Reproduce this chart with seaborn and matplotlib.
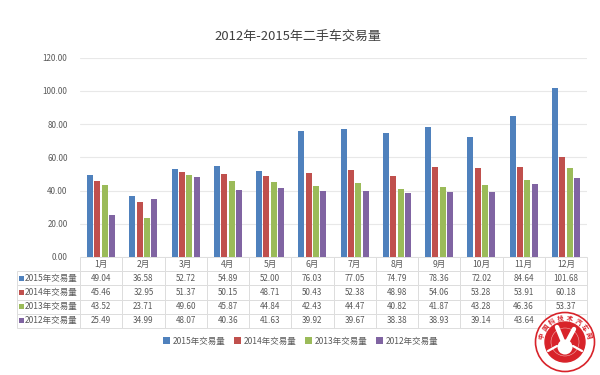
import matplotlib as mpl
mpl.use('Agg')
import matplotlib.pyplot as plt
from matplotlib.patches import Circle, Rectangle
import seaborn as sns
import pandas as pd
import numpy as np

months = ['1月', '2月', '3月', '4月', '5月', '6月', '7月', '8月', '9月', '10月', '11月', '12月']
series_names = ['2015年交易量', '2014年交易量', '2013年交易量', '2012年交易量']
vol_2015 = [49.04, 36.58, 52.72, 54.89, 52.00, 76.03, 77.05, 74.79, 78.36, 72.02, 84.64, 101.68]
vol_2014 = [45.46, 32.95, 51.37, 50.15, 48.71, 50.43, 52.38, 48.98, 54.06, 53.28, 53.91, 60.18]
vol_2013 = [43.52, 23.71, 49.60, 45.87, 44.84, 42.43, 44.47, 40.82, 41.87, 43.28, 46.36, 53.37]
vol_2012 = [25.49, 34.99, 48.07, 40.36, 41.63, 39.92, 39.67, 38.38, 38.93, 39.14, 43.64, 47.80]
colors = ['#4F81BD', '#C0504D', '#9BBB59', '#8064A2']
title = '2012年-2015年二手车交易量'
seal_text = '中国科技术汽车网'

W, H = 600, 375
GRAY = '#595959'
SEAL = '#D8232A'

sns.set_theme(style='white')
plt.rcParams['font.family'] = ['Noto Sans CJK SC', 'DejaVu Sans']


def px_box(left, top, right, bottom):
    # pixel box of the picture -> figure fractions
    return [left / W, 1 - bottom / H, (right - left) / W, (bottom - top) / H]


def draw_bars(fig, all_vols):
    rows = []
    for name, vals in zip(series_names, all_vols):
        for m, v in zip(months, vals):
            rows.append({'月份': m, '交易量': v, '系列': name})
    df = pd.DataFrame(rows)

    ax = fig.add_axes(px_box(80, 57.5, 587, 257))
    # white edges of the theme would eat the bar width
    sns.barplot(data=df, x='月份', y='交易量', hue='系列', palette=colors,
                width=0.7, gap=0.18, saturation=1, linewidth=0, ax=ax)
    handles, labels = ax.get_legend_handles_labels()
    ax.legend_.remove()
    ax.set_xlim(-0.5, 11.5)
    ax.set_ylim(0, 120)
    ax.set_yticks(np.arange(0, 121, 20))
    ax.set_yticklabels(['%.2f' % t for t in np.arange(0, 121, 20)], fontsize=5.8, color=GRAY)
    ax.tick_params(axis='y', length=0, pad=9)
    ax.set_xticks([])
    ax.set_xlabel('')
    ax.set_ylabel('')
    ax.grid(axis='y', color='#E8E8E8', lw=0.8)
    ax.set_axisbelow(True)
    sns.despine(ax=ax, left=True, top=True, right=True, bottom=True)
    return handles, labels


def draw_table(fig, all_vols):
    ax = fig.add_axes(px_box(17, 257, 587, 328))
    ax.set_axis_off()
    cells = [[''] + months]
    for name, vals in zip(series_names, all_vols):
        cells.append([name] + ['%.2f' % v for v in vals])
    col_widths = [63 / 570] + [507 / 12 / 570] * 12
    tb = ax.table(cellText=cells, colWidths=col_widths, bbox=[0, 0, 1, 1], cellLoc='center')
    tb.auto_set_font_size(False)
    for (r, c), cell in tb.get_celld().items():
        cell.set_edgecolor('#DDDDDD')
        cell.set_linewidth(0.7)
        cell.get_text().set_color(GRAY)
        cell.get_text().set_fontsize(5.8)
        if r == 0:
            cell.get_text().set_fontsize(6.2)
        if r == 0 and c == 0:
            cell.visible_edges = ''
        if r > 0 and c == 0:
            cell.get_text().set_fontsize(6.1)
            cell.get_text().set_ha('left')
            cell.PAD = 0.13


def draw_overlay(fig):
    # swatches of the table rows and the round seal
    ov = fig.add_axes([0, 0, 1, 1], facecolor='none')
    ov.set_xlim(0, W)
    ov.set_ylim(H, 0)
    ov.set_axis_off()
    for i, c in enumerate(colors):
        ov.add_patch(Rectangle((19, 275.5 + i * 14.1), 5, 5, color=c, lw=0))

    cx, cy = 565, 342
    ov.add_patch(Circle((cx, cy), 29.5, fc='white', ec=SEAL, lw=1.2, zorder=5))
    ov.add_patch(Circle((cx, cy), 20, fc=SEAL, ec=SEAL, zorder=6))
    ov.add_patch(Circle((cx, cy), 14, fc='none', ec='#F2B0B0', lw=0.4, zorder=7))
    for i, ch in enumerate(seal_text):
        a = np.radians(-165 + i * 150 / (len(seal_text) - 1))
        ov.text(cx + 24.5 * np.cos(a), cy + 24.5 * np.sin(a), ch, fontsize=4.6, color=SEAL,
                ha='center', va='center', rotation=-np.degrees(a) - 90, zorder=7, fontweight='bold')
    # the hand: two raised fingers on a fist
    ov.plot([cx - 1, cx - 8], [cy + 2, cy - 15], color='white', lw=3.2, solid_capstyle='round', zorder=8)
    ov.plot([cx + 1, cx + 9], [cy + 2, cy - 13], color='white', lw=3.2, solid_capstyle='round', zorder=8)
    ov.add_patch(Circle((cx, cy + 5), 7.5, fc='white', ec='none', zorder=8))
    ov.plot([cx + 8, cx + 17], [cy + 4, cy + 9], color='white', lw=1.6, zorder=8)
    ov.plot([cx - 8, cx - 17], [cy + 4, cy + 9], color='white', lw=1.6, zorder=8)


def run():
    fig = plt.figure(figsize=(6, 3.75), dpi=100, facecolor='white')
    all_vols = [vol_2015, vol_2014, vol_2013, vol_2012]
    handles, labels = draw_bars(fig, all_vols)
    draw_table(fig, all_vols)
    fig.text(298 / W, 1 - 37 / H, title, fontsize=9.4, color='#404040', ha='center', va='center')
    fig.legend(handles, labels, loc='center', bbox_to_anchor=(301 / W, 1 - 341 / H), ncol=4,
               frameon=False, fontsize=6.1, labelcolor=GRAY, handlelength=0.75, handleheight=0.75,
               handletextpad=0.4, columnspacing=1.0)
    draw_overlay(fig)
    fig.savefig('out.png', dpi=100)


if __name__ == '__main__':
    run()
